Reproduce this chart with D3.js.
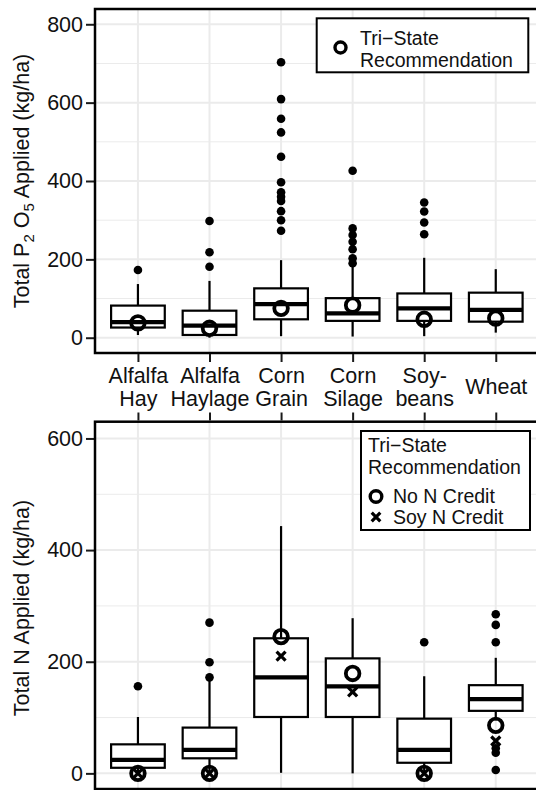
<!DOCTYPE html>
<html>
<head>
<meta charset="utf-8">
<script src="https://cdn.jsdelivr.net/npm/d3@7"></script>
<style>
  body { margin: 0; background: #fff; }
  svg { display: block; font-family: "Liberation Sans", Arial, sans-serif; }
</style>
</head>
<body>
<svg id="chart" width="536" height="790"></svg>
<script>
const crops = ["Alfalfa Hay", "Alfalfa Haylage", "Corn Grain", "Corn Silage", "Soybeans", "Wheat"];
const cropLabels = [["Alfalfa", "Hay"], ["Alfalfa", "Haylage"], ["Corn", "Grain"], ["Corn", "Silage"], ["Soy-", "beans"], ["Wheat"]];

// P2O5 panel
const pLow  = [7, 0, 4, 3, 4, 13];
const pQ1   = [26, 7, 47, 43, 43, 41];
const pMed  = [40, 31, 86, 62, 75, 71];
const pQ3   = [82, 69, 126, 101, 113, 115];
const pHigh = [137, 145, 198, 181, 204, 175];
const pOut  = [[173], [181, 218, 298], [273, 300, 323, 349, 360, 371, 397, 462, 524, 559, 609, 703],
               [190, 203, 226, 245, 262, 279, 426], [264, 294, 322, 345], []];
const pRec  = [38, 24, 75, 83, 47, 50];
const pTicks = [0, 200, 400, 600, 800];

// N panel
const nLow  = [0, 0, 1, 0, 0, 95];
const nQ1   = [10, 27, 101, 101, 19, 112];
const nMed  = [24, 42, 172, 156, 42, 133];
const nQ3   = [52, 82, 242, 206, 98, 158];
const nHigh = [101, 170, 443, 278, 174, 207];
const nOut  = [[156], [172, 199, 270], [], [], [235], [6, 37, 45, 235, 266, 285]];
const nRec  = [0, 0, 245, 179, 0, 86];
const nSoy  = [0, 0, 210, 146, 0, 58];
const nTicks = [0, 200, 400, 600];

const svg = d3.select("#chart");
const left = 95, right = 538.7;

const x = d3.scalePoint().domain(crops).range([left, right]).padding(0.6);
const boxW = x.step() * 0.75;

function drawPanel(cfg) {
    const y = d3.scaleLinear().domain(cfg.domain).range([cfg.bottom, cfg.top]);
    const g = svg.append("g");

    // grid
    const minor = d3.range(100, cfg.domain[1], 200);
    g.selectAll(".minor").data(minor).enter().append("line")
        .attr("x1", left).attr("x2", right)
        .attr("y1", d => y(d)).attr("y2", d => y(d))
        .attr("stroke", "#ebebeb").attr("stroke-width", 1);
    g.selectAll(".major").data(cfg.ticks).enter().append("line")
        .attr("x1", left).attr("x2", right)
        .attr("y1", d => y(d)).attr("y2", d => y(d))
        .attr("stroke", "#ebebeb").attr("stroke-width", 2);
    g.selectAll(".vgrid").data(crops).enter().append("line")
        .attr("x1", d => x(d)).attr("x2", d => x(d))
        .attr("y1", cfg.top).attr("y2", cfg.bottom)
        .attr("stroke", "#ebebeb").attr("stroke-width", 2);

    const rows = crops.map((c, i) => ({
        c, lo: cfg.low[i], q1: cfg.q1[i], med: cfg.med[i], q3: cfg.q3[i], hi: cfg.high[i]
    }));

    // whiskers
    g.selectAll(".wh").data(rows).enter().append("line")
        .attr("x1", d => x(d.c)).attr("x2", d => x(d.c))
        .attr("y1", d => y(d.hi)).attr("y2", d => y(d.q3))
        .attr("stroke", "#000").attr("stroke-width", 2.2);
    g.selectAll(".wl").data(rows).enter().append("line")
        .attr("x1", d => x(d.c)).attr("x2", d => x(d.c))
        .attr("y1", d => y(d.q1)).attr("y2", d => y(d.lo))
        .attr("stroke", "#000").attr("stroke-width", 2.2);

    // boxes
    g.selectAll(".box").data(rows).enter().append("rect")
        .attr("x", d => x(d.c) - boxW / 2)
        .attr("width", boxW)
        .attr("y", d => y(d.q3))
        .attr("height", d => y(d.q1) - y(d.q3))
        .attr("fill", "#fff").attr("stroke", "#000").attr("stroke-width", 2.2);
    g.selectAll(".med").data(rows).enter().append("line")
        .attr("x1", d => x(d.c) - boxW / 2).attr("x2", d => x(d.c) + boxW / 2)
        .attr("y1", d => y(d.med)).attr("y2", d => y(d.med))
        .attr("stroke", "#000").attr("stroke-width", 4.2);

    // outliers
    const outs = [];
    cfg.out.forEach((arr, i) => arr.forEach(v => outs.push({ c: crops[i], v })));
    g.selectAll(".out").data(outs).enter().append("circle")
        .attr("cx", d => x(d.c)).attr("cy", d => y(d.v))
        .attr("r", 4.3).attr("fill", "#000");

    // recommendation markers
    g.selectAll(".rec").data(cfg.rec).enter().append("circle")
        .attr("cx", (d, i) => x(crops[i])).attr("cy", d => y(d))
        .attr("r", 6.8).attr("fill", "none").attr("stroke", "#000").attr("stroke-width", 3.8);
    if (cfg.soy) {
        g.selectAll(".soy").data(cfg.soy).enter().append("path")
            .attr("transform", (d, i) => `translate(${x(crops[i])},${y(d)})`)
            .attr("d", "M-4.5,-4.5L4.5,4.5M-4.5,4.5L4.5,-4.5")
            .attr("stroke", "#000").attr("stroke-width", 3.2).attr("fill", "none");
    }

    // y axis
    const ya = g.append("g").attr("transform", `translate(${left - 1},0)`)
        .call(d3.axisLeft(y).tickValues(cfg.ticks).tickSize(8).tickPadding(3));
    ya.select(".domain").remove();
    ya.selectAll("line").attr("stroke", "#1a1a1a").attr("stroke-width", 2);
    ya.selectAll("text").attr("font-size", 21.5).attr("fill", "#111")
        .attr("font-family", "Liberation Sans, Arial, sans-serif");

    // panel border
    g.append("rect")
        .attr("x", left).attr("y", cfg.top)
        .attr("width", right - left).attr("height", cfg.bottom - cfg.top)
        .attr("fill", "none").attr("stroke", "#000").attr("stroke-width", 2.5);

    return { g, y };
}

// top panel
const topPanel = drawPanel({
    domain: [-39, 839], top: 9, bottom: 353, ticks: pTicks,
    low: pLow, q1: pQ1, med: pMed, q3: pQ3, high: pHigh, out: pOut, rec: pRec
});

// x axis under the top panel
const xa = svg.append("g").attr("transform", "translate(0,354)")
    .call(d3.axisBottom(x).tickSize(8).tickFormat(""));
xa.select(".domain").remove();
xa.selectAll("line").attr("stroke", "#1a1a1a").attr("stroke-width", 2);
xa.selectAll(".tick").each(function (d, i) {
    const lines = cropLabels[i];
    const t = d3.select(this).append("text")
        .attr("fill", "#111").attr("font-size", 21.5)
        .attr("text-anchor", "middle")
        .attr("font-family", "Liberation Sans, Arial, sans-serif");
    if (lines.length === 1) {
        t.append("tspan").attr("x", 0).attr("y", 40).text(lines[0]);
    } else {
        lines.forEach((l, j) => t.append("tspan").attr("x", 0).attr("y", 29 + j * 23).text(l));
    }
});

// bottom panel
const botPanel = drawPanel({
    domain: [-28, 630], top: 421.7, bottom: 789, ticks: nTicks,
    low: nLow, q1: nQ1, med: nMed, q3: nQ3, high: nHigh, out: nOut, rec: nRec, soy: nSoy
});
const xb = svg.append("g").attr("transform", "translate(0,420.5)")
    .call(d3.axisTop(x).tickSize(8).tickFormat(""));
xb.select(".domain").remove();
xb.selectAll("line").attr("stroke", "#1a1a1a").attr("stroke-width", 2);

// y titles
const t1 = svg.append("text")
    .attr("transform", "translate(29,181) rotate(-90)")
    .attr("text-anchor", "middle").attr("font-size", 21.5).attr("fill", "#111");
t1.append("tspan").text("Total  P");
t1.append("tspan").attr("font-size", 15).attr("dy", 5).text("2");
t1.append("tspan").attr("dy", -5).text(" O");
t1.append("tspan").attr("font-size", 15).attr("dy", 5).text("5");
t1.append("tspan").attr("dy", -5).text(" Applied (kg/ha)");

svg.append("text")
    .attr("transform", "translate(29,608) rotate(-90)")
    .attr("text-anchor", "middle").attr("font-size", 21.5).attr("fill", "#111")
    .text("Total N Applied (kg/ha)");

// legend top
const lg1 = svg.append("g");
lg1.append("rect").attr("x", 316.7).attr("y", 18.3).attr("width", 211.6).attr("height", 54)
    .attr("fill", "#fff").attr("stroke", "#000").attr("stroke-width", 2);
lg1.append("circle").attr("cx", 340.5).attr("cy", 47.5).attr("r", 5.5)
    .attr("fill", "none").attr("stroke", "#000").attr("stroke-width", 3.4);
lg1.append("text").attr("x", 360).attr("y", 45).attr("font-size", 19.5).attr("fill", "#111").text("Tri\u2212State");
lg1.append("text").attr("x", 360).attr("y", 66.5).attr("font-size", 19.5).attr("fill", "#111").text("Recommendation");

// legend bottom
const lg2 = svg.append("g");
lg2.append("rect").attr("x", 361).attr("y", 431).attr("width", 169).attr("height", 99)
    .attr("fill", "#fff").attr("stroke", "#000").attr("stroke-width", 2);
lg2.append("text").attr("x", 368).attr("y", 452).attr("font-size", 19.5).attr("fill", "#111").text("Tri\u2212State");
lg2.append("text").attr("x", 368).attr("y", 473.5).attr("font-size", 19.5).attr("fill", "#111").text("Recommendation");
lg2.append("circle").attr("cx", 376).attr("cy", 496.5).attr("r", 5.8)
    .attr("fill", "none").attr("stroke", "#000").attr("stroke-width", 3.4);
lg2.append("path").attr("transform", "translate(376,517)")
    .attr("d", "M-4.3,-4.3L4.3,4.3M-4.3,4.3L4.3,-4.3").attr("stroke", "#000").attr("stroke-width", 3.2);
lg2.append("text").attr("x", 393).attr("y", 503).attr("font-size", 19.5).attr("fill", "#111").text("No N Credit");
lg2.append("text").attr("x", 393).attr("y", 523.5).attr("font-size", 19.5).attr("fill", "#111").text("Soy N Credit");
</script>
</body>
</html>
